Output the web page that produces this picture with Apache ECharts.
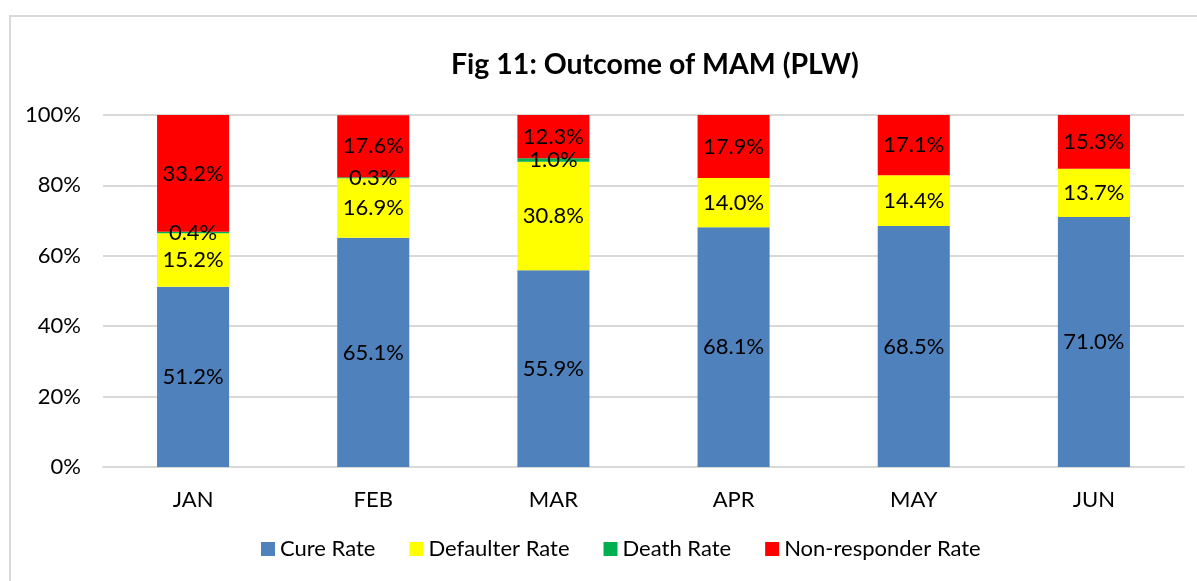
<!DOCTYPE html>
<html>
<head>
<meta charset="utf-8">
<script src="https://cdn.jsdelivr.net/npm/echarts@6/dist/echarts.min.js"></script>
<style>
  html, body { margin: 0; padding: 0; background: #fff; }
  #main { width: 1197px; height: 581px; }
</style>
</head>
<body>
<div id="main"></div>
<script>
// data
const months = ['JAN', 'FEB', 'MAR', 'APR', 'MAY', 'JUN'];
const cureRate = [51.2, 65.1, 55.9, 68.1, 68.5, 71.0];
const defaulterRate = [15.2, 16.9, 30.8, 14.0, 14.4, 13.7];
const deathRate = [0.4, 0.3, 1.0, 0, 0, 0];
const nonResponderRate = [33.2, 17.6, 12.3, 17.9, 17.1, 15.3];
const yTicks = [0, 20, 40, 60, 80, 100];

const font = 'Lato, "Open Sans", sans-serif';

const chart = echarts.init(document.getElementById('main'));

// one stacked series
const makeSeries = (name, data, color) => ({
  name: name,
  type: 'bar',
  stack: 'total',
  barWidth: '40%',
  data: data,
  itemStyle: { color: color },
  label: {
    show: true,
    position: 'inside',
    color: '#000',
    fontFamily: font,
    fontSize: 22,
    formatter: p => (p.value > 0 ? p.value.toFixed(1) + '%' : '')
  }
});

const option = {
  animation: false,
  textStyle: { fontFamily: font },
  title: {
    text: 'Fig 11: Outcome of MAM (PLW)',
    left: 446,
    top: 45,
    textStyle: { fontSize: 28.5, fontWeight: 'bold', color: '#000', fontFamily: font }
  },
  graphic: [{
    type: 'rect',
    shape: { x: 10, y: 16, width: 1300, height: 700 },
    style: { fill: 'none', stroke: '#d9d9d9', lineWidth: 2 },
    silent: true
  }],
  legend: {
    bottom: 16,
    left: 256,
    itemWidth: 14,
    itemHeight: 14,
    itemGap: 34,
    icon: 'rect',
    textStyle: { fontSize: 22, color: '#000', fontFamily: font }
  },
  grid: { left: 103, right: 13, top: 115, bottom: 114 },
  xAxis: {
    type: 'category',
    data: months,
    axisLine: { lineStyle: { color: '#d9d9d9', width: 2 } },
    axisTick: { show: false },
    axisLabel: { fontSize: 22, color: '#000', margin: 22, fontFamily: font }
  },
  yAxis: {
    type: 'value',
    min: yTicks[0],
    max: yTicks[yTicks.length - 1],
    interval: yTicks[1] - yTicks[0],
    axisLine: { show: false },
    axisTick: { show: false },
    splitLine: { lineStyle: { color: '#d9d9d9', width: 2 } },
    axisLabel: { fontSize: 22, color: '#000', margin: 22, formatter: '{value}%', fontFamily: font }
  },
  series: [
    makeSeries('Cure Rate', cureRate, '#4f81bd'),
    makeSeries('Defaulter Rate', defaulterRate, '#ffff00'),
    makeSeries('Death Rate', deathRate, '#00b050'),
    makeSeries('Non-responder Rate', nonResponderRate, '#ff0000')
  ]
};

chart.setOption(option);
</script>
</body>
</html>
